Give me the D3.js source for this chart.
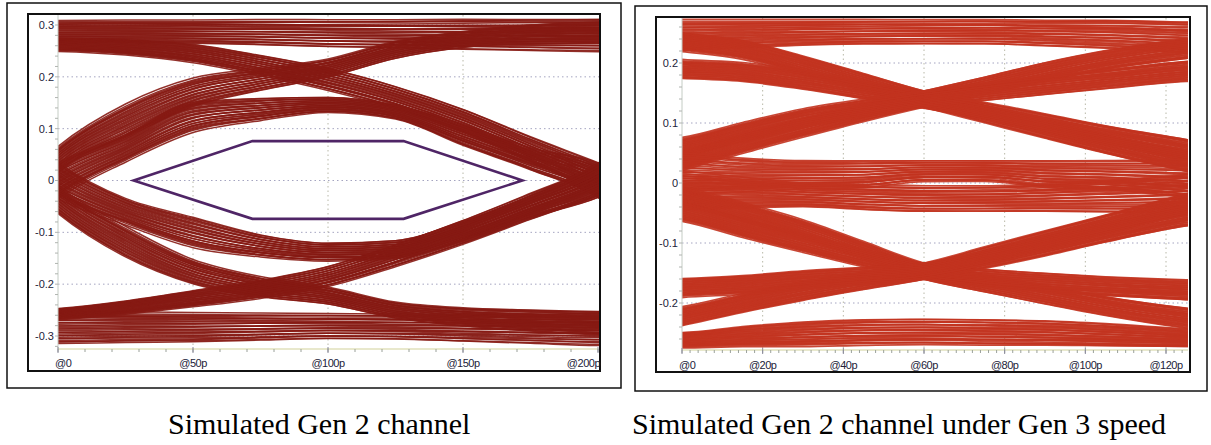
<!DOCTYPE html>
<html><head><meta charset="utf-8">
<script src="https://cdn.jsdelivr.net/npm/d3@7"></script>
<style>body{margin:0;background:#fff;} svg{display:block}</style>
</head><body>
<svg id="c" width="1211" height="445"></svg>
<script>
// ---------- DATA ----------
// Gen 2 panel: sample times (ps) and band centre / half-width (V) of each trace family
const g2Time = [-10, 0, 25, 50, 75, 100, 125, 150, 175, 200, 210];
const g2HighC = [0.288,0.288,0.288,0.287,0.286,0.284,0.283,0.282,0.281,0.28,0.28];
const g2HighW = [0.021,0.021,0.022,0.023,0.025,0.027,0.028,0.03,0.031,0.032,0.032];
const g2FallC = [0.263,0.262,0.257,0.245,0.222,0.195,0.16,0.115,0.06,0.005,-0.02];
const g2FallW = [0.013,0.013,0.015,0.018,0.02,0.022,0.022,0.023,0.025,0.03,0.034];
const g2RiseC = [-0.01,0.04,0.115,0.17,0.195,0.217,0.252,0.272,0.282,0.285,0.285];
const g2RiseW = [0.03,0.026,0.033,0.028,0.022,0.018,0.017,0.016,0.019,0.021,0.021];
const g2PulseUpC = [-0.035,0.0,0.062,0.122,0.137,0.146,0.132,0.088,0.042,0.0,-0.03];
const g2PulseUpW = [0.04,0.035,0.027,0.03,0.022,0.015,0.014,0.021,0.022,0.034,0.04];
const g2LowC = [-0.284,-0.284,-0.283,-0.283,-0.282,-0.281,-0.282,-0.284,-0.286,-0.287,-0.287];
const g2LowW = [0.031,0.031,0.03,0.029,0.027,0.025,0.025,0.027,0.029,0.032,0.032];
const g2RiseLowC = [-0.262,-0.258,-0.245,-0.228,-0.21,-0.185,-0.145,-0.1,-0.05,0.0,0.025];
const g2RiseLowW = [0.011,0.011,0.013,0.016,0.018,0.02,0.022,0.024,0.026,0.03,0.034];
const g2FallLowC = [0.012,-0.036,-0.118,-0.176,-0.205,-0.222,-0.25,-0.263,-0.27,-0.275,-0.276];
const g2FallLowW = [0.03,0.028,0.03,0.024,0.02,0.017,0.016,0.018,0.021,0.023,0.023];
const g2PulseDnC = [0.035,0.0,-0.06,-0.1,-0.126,-0.138,-0.133,-0.098,-0.05,0.0,0.03];
const g2PulseDnW = [0.04,0.035,0.026,0.03,0.022,0.018,0.018,0.02,0.022,0.034,0.04];
// eye mask (ps, V)
const g2MaskT = [28, 72, 128, 172, 128, 72];
const g2MaskV = [0, 0.076, 0.076, 0, -0.074, -0.074];

// Gen 3 speed panel
const g3Time = [-5, 0, 15, 30, 45, 60, 75, 90, 105, 125, 130];
const g3TopC = [0.247,0.247,0.249,0.251,0.252,0.252,0.252,0.25,0.248,0.243,0.242];
const g3TopW = [0.026,0.026,0.024,0.022,0.021,0.021,0.021,0.022,0.024,0.026,0.026];
const g3FallSteepC = [0.24,0.235,0.222,0.196,0.168,0.14,0.115,0.09,0.065,0.036,0.029];
const g3FallGentleC = [0.192,0.19,0.185,0.172,0.155,0.138,0.12,0.1,0.08,0.056,0.05];
const g3RiseSteepC = [0.025,0.036,0.065,0.092,0.117,0.14,0.162,0.185,0.205,0.224,0.228];
const g3RiseGentleC = [0.055,0.06,0.085,0.108,0.125,0.14,0.152,0.163,0.173,0.186,0.188];
const g3EdgeW = [0.017,0.016,0.016,0.016,0.015,0.014,0.015,0.016,0.016,0.017,0.017];
const g3MidUpC = [0.0125,0.015,0.0135,0.014,0.015,0.02,0.02,0.015,0.013,0.0075,0.006];
const g3MidUpW = [0.0375,0.035,0.0285,0.024,0.023,0.018,0.018,0.023,0.025,0.0325,0.034];
const g3MidDnC = [-0.0115,-0.0125,-0.016,-0.02,-0.0235,-0.026,-0.026,-0.0245,-0.022,-0.0175,-0.016];
const g3MidDnW = [0.0335,0.0325,0.026,0.02,0.0215,0.022,0.022,0.0235,0.027,0.0325,0.034];
const g3BottomC = [-0.262,-0.262,-0.256,-0.252,-0.249,-0.248,-0.249,-0.25,-0.253,-0.258,-0.259];
const g3BottomW = [0.013,0.013,0.017,0.021,0.022,0.022,0.022,0.021,0.019,0.015,0.014];
const g3FallLowSteepC = [-0.01,-0.02,-0.048,-0.077,-0.112,-0.147,-0.167,-0.186,-0.205,-0.225,-0.229];
const g3FallLowGentleC = [-0.042,-0.048,-0.075,-0.1,-0.125,-0.147,-0.158,-0.166,-0.172,-0.178,-0.179];
const g3RiseLowSteepC = [-0.228,-0.222,-0.2,-0.18,-0.163,-0.147,-0.121,-0.095,-0.069,-0.035,-0.028];
const g3RiseLowGentleC = [-0.177,-0.175,-0.17,-0.162,-0.155,-0.147,-0.128,-0.106,-0.083,-0.055,-0.05];

// position of each trace inside its band (start / end, in band half-widths)
const fracStart = [-1,-0.93,-0.86,-0.8,-0.73,-0.66,-0.6,-0.53,-0.46,-0.4,-0.33,-0.26,-0.2,-0.13,-0.06,
                   0,0.07,0.13,0.2,0.27,0.33,0.4,0.47,0.53,0.6,0.67,0.73,0.8,0.87,1];
const fracEnd   = [-0.9,-0.6,-1,-0.75,-0.35,-0.82,-0.5,-0.15,-0.65,-0.25,0.05,-0.45,-0.05,0.3,-0.3,
                   0.15,0.5,-0.1,0.4,0.7,0.1,0.85,0.25,0.6,1,0.45,0.9,0.35,0.78,0.95];

// tick labels
const g2YTicks = [0.3, 0.2, 0.1, 0, -0.1, -0.2, -0.3];
const g2YLabels = ["0.3","0.2","0.1","0","-0.1","-0.2","-0.3"];
const g2XTicks = [0, 50, 100, 150, 200];
const g2XLabels = ["@0","@50p","@100p","@150p","@200p"];
const g3YTicks = [0.2, 0.1, 0, -0.1, -0.2];
const g3YLabels = ["0.2","0.1","0","-0.1","-0.2"];
const g3XTicks = [0, 20, 40, 60, 80, 100, 120];
const g3XLabels = ["@0","@20p","@40p","@60p","@80p","@100p","@120p"];
const captions = ["Simulated Gen 2 channel", "Simulated Gen 2 channel under Gen 3 speed"];

// ---------- DRAWING ----------
const svg = d3.select("#c");

function drawPanel(p) {
  const g = svg.append("g");
  const x = d3.scaleLinear().domain(p.xDomain).range(p.xRange);
  const y = d3.scaleLinear().domain(p.yDomain).range(p.yRange);
  const [cx0, cx1, cy0, cy1] = p.clip;

  g.append("rect").attr("x", p.outer[0]).attr("y", p.outer[1]).attr("width", p.outer[2]).attr("height", p.outer[3])
    .attr("fill", "none").attr("stroke", "#111").attr("stroke-width", 1.5);
  g.append("rect").attr("x", p.inner[0]).attr("y", p.inner[1]).attr("width", p.inner[2]).attr("height", p.inner[3])
    .attr("fill", "#fff").attr("stroke", "#111").attr("stroke-width", 2);

  // grid
  const grid = g.append("g").attr("stroke", "#a4a4c0").attr("stroke-width", 1).attr("stroke-dasharray", "1.5,3");
  p.yTicks.forEach(v => grid.append("line").attr("x1", cx0).attr("x2", cx1).attr("y1", y(v)).attr("y2", y(v)));
  p.xTicks.filter(t => t > 0 && x(t) < cx1 - 4).forEach(t =>
    grid.append("line").attr("x1", x(t)).attr("x2", x(t)).attr("y1", cy0).attr("y2", cy1).attr("stroke", "#b8b8a8"));

  // traces
  const clipId = "clip" + p.id;
  svg.append("defs").append("clipPath").attr("id", clipId).append("rect")
    .attr("x", cx0).attr("y", cy0).attr("width", cx1 - cx0).attr("height", cy1 - cy0);
  const tg = g.append("g").attr("clip-path", `url(#${clipId})`);
  const line = d3.line().x(d => x(d[0])).y(d => y(d[1])).curve(d3.curveMonotoneX);
  const n = p.time.length;
  p.families.forEach(([C, W], fi) => {
    const sgn = (fi % 2 === 0) ? 1 : -1;   // mirror the ordering for alternate families
    fracStart.forEach((fa, i) => {
      const fb = fracEnd[i];
      const pts = p.time.map((t, k) => [t, C[k] + sgn * W[k] * (fa + (fb - fa) * k / (n - 1))]);
      tg.append("path").attr("d", line(pts)).attr("fill", "none")
        .attr("stroke", p.color).attr("stroke-width", p.lw).attr("stroke-opacity", 0.9);
    });
  });

  // mask
  if (p.mask) {
    const mpts = p.mask[0].map((t, i) => [x(t), y(p.mask[1][i])]);
    g.append("path").attr("d", "M" + mpts.map(d => d.join(",")).join("L") + "Z")
      .attr("fill", "none").attr("stroke", "#4f2566").attr("stroke-width", 2.6).attr("stroke-linejoin", "miter");
  }

  // y axis line + minor ticks
  g.append("line").attr("x1", cx0).attr("x2", cx0).attr("y1", cy0).attr("y2", cy1)
    .attr("stroke", "#c4ccc4").attr("stroke-width", 1);
  const yMinor = d3.range(p.yMinor[0], p.yMinor[1] + 1e-9, p.yMinor[2]);
  yMinor.forEach(v => { if (y(v) > cy0 && y(v) < cy1) g.append("line").attr("x1", cx0 - 3).attr("x2", cx0)
      .attr("y1", y(v)).attr("y2", y(v)).attr("stroke", "#b0b4b0"); });
  // x axis line + minor ticks
  g.append("line").attr("x1", cx0).attr("x2", cx1).attr("y1", cy1).attr("y2", cy1)
    .attr("stroke", "#d2d29a").attr("stroke-width", 1.2);
  d3.range(0, p.xMinor[1] + 1e-9, p.xMinor[0]).forEach(t => { if (x(t) <= cx1) g.append("line")
      .attr("x1", x(t)).attr("x2", x(t)).attr("y1", cy1).attr("y2", cy1 + 3).attr("stroke", "#9aa09a"); });
  p.xTicks.forEach(t => g.append("line").attr("x1", x(t)).attr("x2", x(t)).attr("y1", cy1 - 2).attr("y2", cy1 + 4)
      .attr("stroke", "#8a8a9a"));

  // labels
  const lab = g.append("g").attr("font-family", "Liberation Sans, Arial, sans-serif").attr("font-size", 11)
    .attr("fill", "#222238");
  p.yTicks.forEach((v, i) => lab.append("text").attr("x", cx0 - 4).attr("y", y(v)).attr("dy", "0.35em")
    .attr("text-anchor", "end").text(p.yLabels[i]));
  p.xTicks.forEach((t, i) => {
    let anchor = "middle", xx = x(t);
    if (i === 0) { anchor = "start"; xx = x(t) - 3; }
    if (i === p.xTicks.length - 1 && x(t) > cx1 - 12) { anchor = "end"; xx = cx1 + 1; }
    lab.append("text").attr("x", xx).attr("y", p.xLabelY).attr("text-anchor", anchor)
      .attr("letter-spacing", "-0.5").text(p.xLabels[i]);
  });
}

drawPanel({
  id: "a", outer: [7, 3, 614, 385], inner: [28, 14, 572, 357],
  xDomain: [0, 200], xRange: [58, 598], yDomain: [0.3, -0.3], yRange: [25, 336],
  clip: [58, 599, 15, 349], xLabelY: 367,
  yTicks: g2YTicks, yLabels: g2YLabels, xTicks: g2XTicks, xLabels: g2XLabels,
  yMinor: [-0.32, 0.32, 0.02], xMinor: [10, 200],
  time: g2Time, color: "#861a13", lw: 1.5,
  families: [[g2HighC, g2HighW], [g2FallC, g2FallW], [g2RiseC, g2RiseW], [g2PulseUpC, g2PulseUpW],
             [g2LowC, g2LowW], [g2RiseLowC, g2RiseLowW], [g2FallLowC, g2FallLowW], [g2PulseDnC, g2PulseDnW]],
  mask: [g2MaskT, g2MaskV]
});

drawPanel({
  id: "b", outer: [635, 6, 572, 385], inner: [656, 17, 534, 355],
  xDomain: [0, 120], xRange: [682, 1166], yDomain: [0.2, -0.2], yRange: [63, 303],
  clip: [682, 1188, 18, 350], xLabelY: 369,
  yTicks: g3YTicks, yLabels: g3YLabels, xTicks: g3XTicks, xLabels: g3XLabels,
  yMinor: [-0.28, 0.28, 0.02], xMinor: [2, 124],
  time: g3Time, color: "#c2331f", lw: 1.7,
  families: [[g3TopC, g3TopW], [g3FallSteepC, g3EdgeW], [g3FallGentleC, g3EdgeW], [g3RiseSteepC, g3EdgeW],
             [g3RiseGentleC, g3EdgeW], [g3MidUpC, g3MidUpW], [g3MidDnC, g3MidDnW], [g3BottomC, g3BottomW],
             [g3FallLowSteepC, g3EdgeW], [g3FallLowGentleC, g3EdgeW], [g3RiseLowSteepC, g3EdgeW], [g3RiseLowGentleC, g3EdgeW]]
});

// captions
const cap = svg.append("g").attr("font-family", "Liberation Serif, 'Times New Roman', serif")
  .attr("font-size", 30).attr("fill", "#000");
cap.append("text").attr("x", 168).attr("y", 434).text(captions[0]);
cap.append("text").attr("x", 632).attr("y", 434).text(captions[1]);
</script>
</body></html>
